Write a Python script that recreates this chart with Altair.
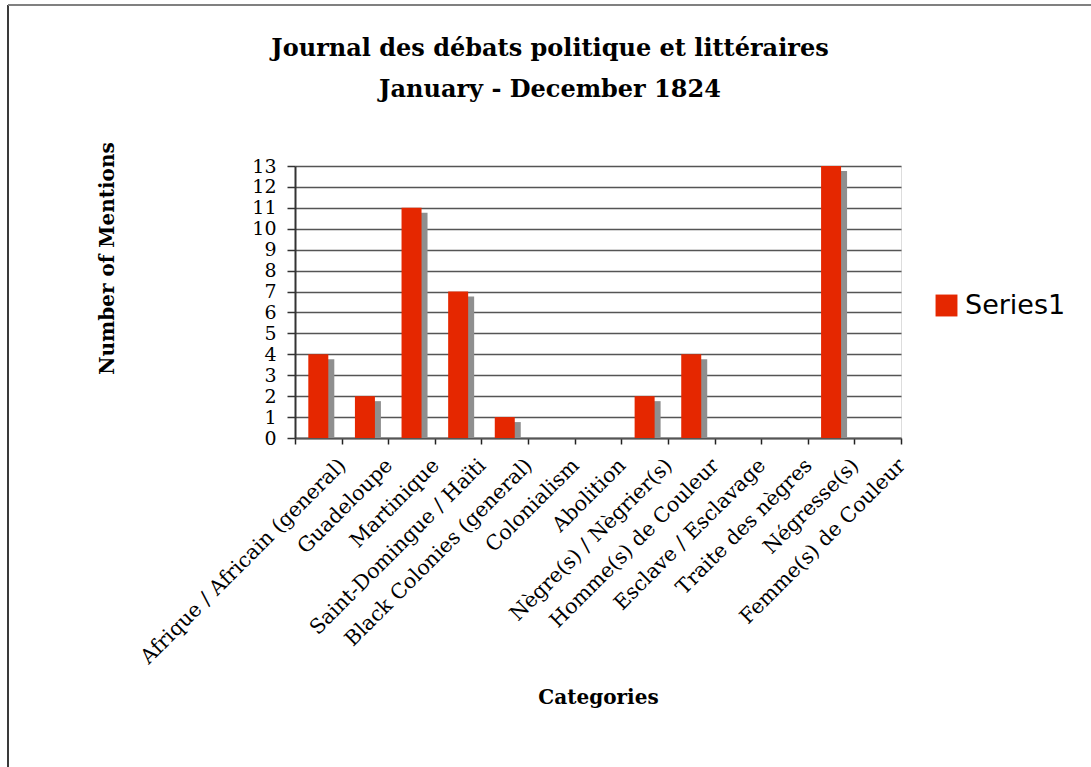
import altair as alt
import pandas as pd

# Mentions per category, Journal des débats politique et littéraires, 1824
categories = [
    "Afrique / Africain (general)",
    "Guadeloupe",
    "Martinique",
    "Saint-Domingue / Haïti",
    "Black Colonies (general)",
    "Colonialism",
    "Abolition",
    "Nègre(s) / Nègrier(s)",
    "Homme(s) de Couleur",
    "Esclave / Esclavage",
    "Traite des nègres",
    "Négresse(s)",
    "Femme(s) de Couleur",
]
mentions = [4, 2, 11, 7, 1, 0, 0, 2, 4, 0, 0, 13, 0]
series_name = "Series1"
y_ticks = list(range(0, 14))
title_lines = ["Journal des débats politique et littéraires", "January - December 1824"]

df = pd.DataFrame({"category": categories, "mentions": mentions, "series": series_name})

W, H = 606, 272
LEFT, TOP = 295, 166
TOTAL_W, TOTAL_H = 1091, 767

SERIF = "DejaVu Serif"
SANS = "DejaVu Sans"
RED = "#E52700"

x_enc = alt.X(
    "category:N",
    sort=categories,
    scale=alt.Scale(paddingInner=0, paddingOuter=0),
    axis=alt.Axis(
        title="Categories",
        titleFont=SERIF,
        titleFontSize=20,
        titleFontWeight="bold",
        titleColor="#000",
        titleY=259,
        titleBaseline="middle",
        labelAngle=-45,
        labelAlign="right",
        labelBaseline="middle",
        labelOffset=24,
        labelPadding=18,
        labelFont=SERIF,
        labelFontSize=20.5,
        labelColor="#000",
        labelOverlap=False,
        labelLimit=0,
        tickBand="extent",
        tickSize=6,
        tickColor="#222",
        tickWidth=1.5,
        domainColor="#555",
        domainWidth=2,
        grid=False,
    ),
)

y_enc = alt.Y(
    "mentions:Q",
    scale=alt.Scale(domain=[0, 13], nice=False),
    axis=alt.Axis(
        values=y_ticks,
        title="Number of Mentions",
        titleFont=SERIF,
        titleFontSize=20,
        titleFontWeight="bold",
        titleColor="#000",
        titleAngle=-90,
        titleX=-188,
        titleY=92,
        titleAlign="center",
        titleBaseline="middle",
        labelFont=SERIF,
        labelFontSize=19,
        labelColor="#000",
        labelPadding=11,
        labelOverlap=False,
        labelFlush=False,
        tickSize=8,
        tickColor="#333",
        tickWidth=1.5,
        domainColor="#333",
        domainWidth=2,
        grid=True,
        gridColor="#555",
        gridWidth=1.5,
    ),
)

# drop shadow behind each bar
shadow = alt.Chart(df).mark_bar(
    size=20, color="#8F8F8F", xOffset=6, yOffset=5, clip=True
).encode(x=x_enc, y=y_enc)

bars = alt.Chart(df).mark_bar(size=20).encode(
    x=x_enc,
    y=y_enc,
    color=alt.Color(
        "series:N",
        scale=alt.Scale(domain=[series_name], range=[RED]),
        legend=alt.Legend(
            title=None,
            orient="none",
            legendX=638,
            legendY=126,
            symbolType="square",
            symbolSize=480,
            symbolStrokeWidth=0,
            labelFont=SANS,
            labelFontSize=27,
            labelColor="#000",
            labelOffset=5,
        ),
    ),
)

# chart title, two centred lines
title_df = pd.DataFrame({"line": title_lines, "row": [0, 1]})


def title_line(row, baseline_y):
    return (
        alt.Chart(title_df)
        .transform_filter(alt.datum.row == row)
        .mark_text(font=SERIF, fontSize=24, fontWeight="bold", color="#000",
                   align="center", baseline="alphabetic")
        .encode(text="line:N", x=alt.value(550 - LEFT), y=alt.value(baseline_y - TOP))
    )


# outer frame: left and top edges
frame_left = alt.Chart(df).mark_rule(color="#3A3A3A", strokeWidth=2).encode(
    x=alt.value(8 - LEFT), y=alt.value(5 - TOP), y2=alt.value(TOTAL_H - TOP + 10)
)
frame_top = alt.Chart(df).mark_rule(color="#808080", strokeWidth=2).encode(
    x=alt.value(8 - LEFT), x2=alt.value(TOTAL_W - LEFT + 10), y=alt.value(5 - TOP)
)

chart = (
    alt.layer(frame_left, frame_top, shadow, bars, title_line(0, 56), title_line(1, 97))
    .properties(
        width=W,
        height=H,
        autosize=alt.AutoSizeParams(type="none"),
        padding={"left": LEFT, "top": TOP, "right": TOTAL_W - LEFT - W, "bottom": TOTAL_H - TOP - H},
    )
    .configure_view(fill="#D9D9D9", stroke="#999999", strokeWidth=2)
    .configure(background="white")
)

chart.save("out.html", embed_options={"renderer": "svg", "actions": False})
